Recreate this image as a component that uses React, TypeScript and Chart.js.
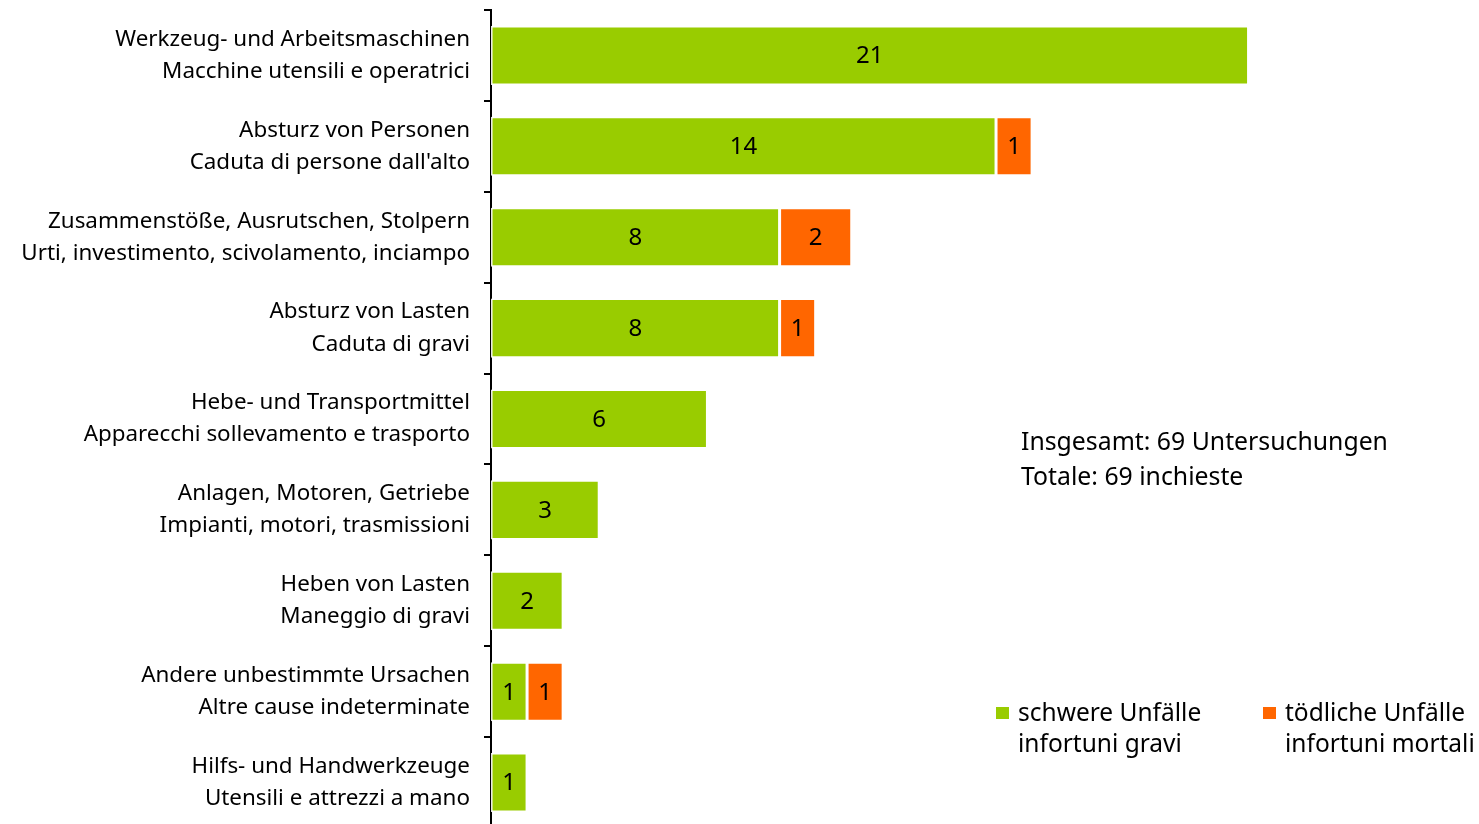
import React, { useEffect, useRef } from "react";
import { Chart, registerables } from "chart.js";

Chart.register(...registerables);

const categories: string[][] = [
  ["Werkzeug- und Arbeitsmaschinen", "Macchine utensili e operatrici"],
  ["Absturz von Personen", "Caduta di persone dall'alto"],
  ["Zusammenstöße, Ausrutschen, Stolpern", "Urti, investimento, scivolamento, inciampo"],
  ["Absturz von Lasten", "Caduta di gravi"],
  ["Hebe- und Transportmittel", "Apparecchi sollevamento e trasporto"],
  ["Anlagen, Motoren, Getriebe", "Impianti, motori, trasmissioni"],
  ["Heben von Lasten", "Maneggio di gravi"],
  ["Andere unbestimmte Ursachen", "Altre cause indeterminate"],
  ["Hilfs- und Handwerkzeuge", "Utensili e attrezzi a mano"],
];
const severe: (number | null)[] = [21, 14, 8, 8, 6, 3, 2, 1, 1];
const fatal: (number | null)[] = [null, 1, 2, 1, null, null, null, 1, null];
const seriesNames: string[][] = [
  ["schwere Unfälle", "infortuni gravi"],
  ["tödliche Unfälle", "infortuni mortali"],
];
const totalNote: string[] = ["Insgesamt: 69 Untersuchungen", "Totale: 69 inchieste"];
const colors = ["#99CC00", "#FF6600"];

const FONT = "'Noto Sans', sans-serif";

const labelPlugin = {
  id: "valueLabels",
  afterDatasetsDraw(chart: any) {
    const ctx = chart.ctx;
    ctx.save();
    ctx.font = `24px ${FONT}`;
    ctx.fillStyle = "#000";
    ctx.textAlign = "center";
    ctx.textBaseline = "middle";
    chart.data.datasets.forEach((ds: any, di: number) => {
      const meta = chart.getDatasetMeta(di);
      meta.data.forEach((el: any, i: number) => {
        const v = ds.data[i];
        if (v == null) return;
        const cx = (el.x + el.base) / 2;
        ctx.fillText(String(v), cx, el.y + 1);
      });
    });
    ctx.restore();
  },
};

const notePlugin = {
  id: "notes",
  afterDraw(chart: any) {
    const ctx = chart.ctx;
    ctx.save();
    ctx.fillStyle = "#000";
    ctx.textAlign = "left";
    ctx.textBaseline = "middle";
    ctx.font = `24.8px ${FONT}`;
    ctx.fillText(totalNote[0], 1013, 435);
    ctx.fillText(totalNote[1], 1013, 470);
    // legend
    ctx.font = `24.5px ${FONT}`;
    const xs = [988, 1255];
    seriesNames.forEach((lines, i) => {
      ctx.fillStyle = colors[i];
      ctx.fillRect(xs[i], 699, 13, 12);
      ctx.fillStyle = "#000";
      ctx.fillText(lines[0], xs[i] + 22, 706);
      ctx.fillText(lines[1], xs[i] + 22, 737);
    });
    ctx.restore();
  },
};

export default function App() {
  const ref = useRef<HTMLCanvasElement | null>(null);
  useEffect(() => {
    if (!ref.current) return;
    const chart = new Chart(ref.current, {
      type: "bar",
      data: {
        labels: categories,
        datasets: [
          {
            label: seriesNames[0].join(" "),
            data: severe,
            backgroundColor: colors[0],
            borderColor: "rgba(255,255,255,0.9)",
            borderWidth: 1.5,
            borderSkipped: false,
            categoryPercentage: 1,
            barPercentage: 0.65,
          },
          {
            label: seriesNames[1].join(" "),
            data: fatal,
            backgroundColor: colors[1],
            borderColor: "rgba(255,255,255,0.9)",
            borderWidth: 1.5,
            borderSkipped: false,
            categoryPercentage: 1,
            barPercentage: 0.65,
          },
        ],
      },
      options: {
        indexAxis: "y",
        responsive: false,
        animation: false,
        layout: { padding: { top: 2, right: 14, bottom: 0, left: 0 } },
        plugins: {
          legend: { display: false },
          tooltip: { enabled: false },
        },
        scales: {
          x: {
            stacked: true,
            display: false,
            min: 0,
            max: 27,
          },
          y: {
            stacked: true,
            afterFit: (scale: any) => {
              scale.width = 483;
              scale.paddingTop = 0;
              scale.paddingBottom = 0;
            },
            border: { display: true, color: "#000", width: 2 },
            grid: {
              display: true,
              offset: true,
              drawOnChartArea: false,
              drawTicks: true,
              tickLength: 7,
              color: "#000",
              lineWidth: 2,
            },
            ticks: {
              color: "#000",
              padding: 14,
              font: { family: FONT, size: 22.4, lineHeight: 1.43 },
            },
          },
        },
      },
      plugins: [labelPlugin, notePlugin],
    });
    return () => chart.destroy();
  }, []);
  return (
    <div
      style={{
        position: "absolute",
        top: 8,
        left: 8,
        width: 1471,
        height: 816,
        overflow: "hidden",
      }}
    >
      <canvas ref={ref} width={1471} height={820} style={{ width: 1471, height: 820, display: "block" }} />
    </div>
  );
}
